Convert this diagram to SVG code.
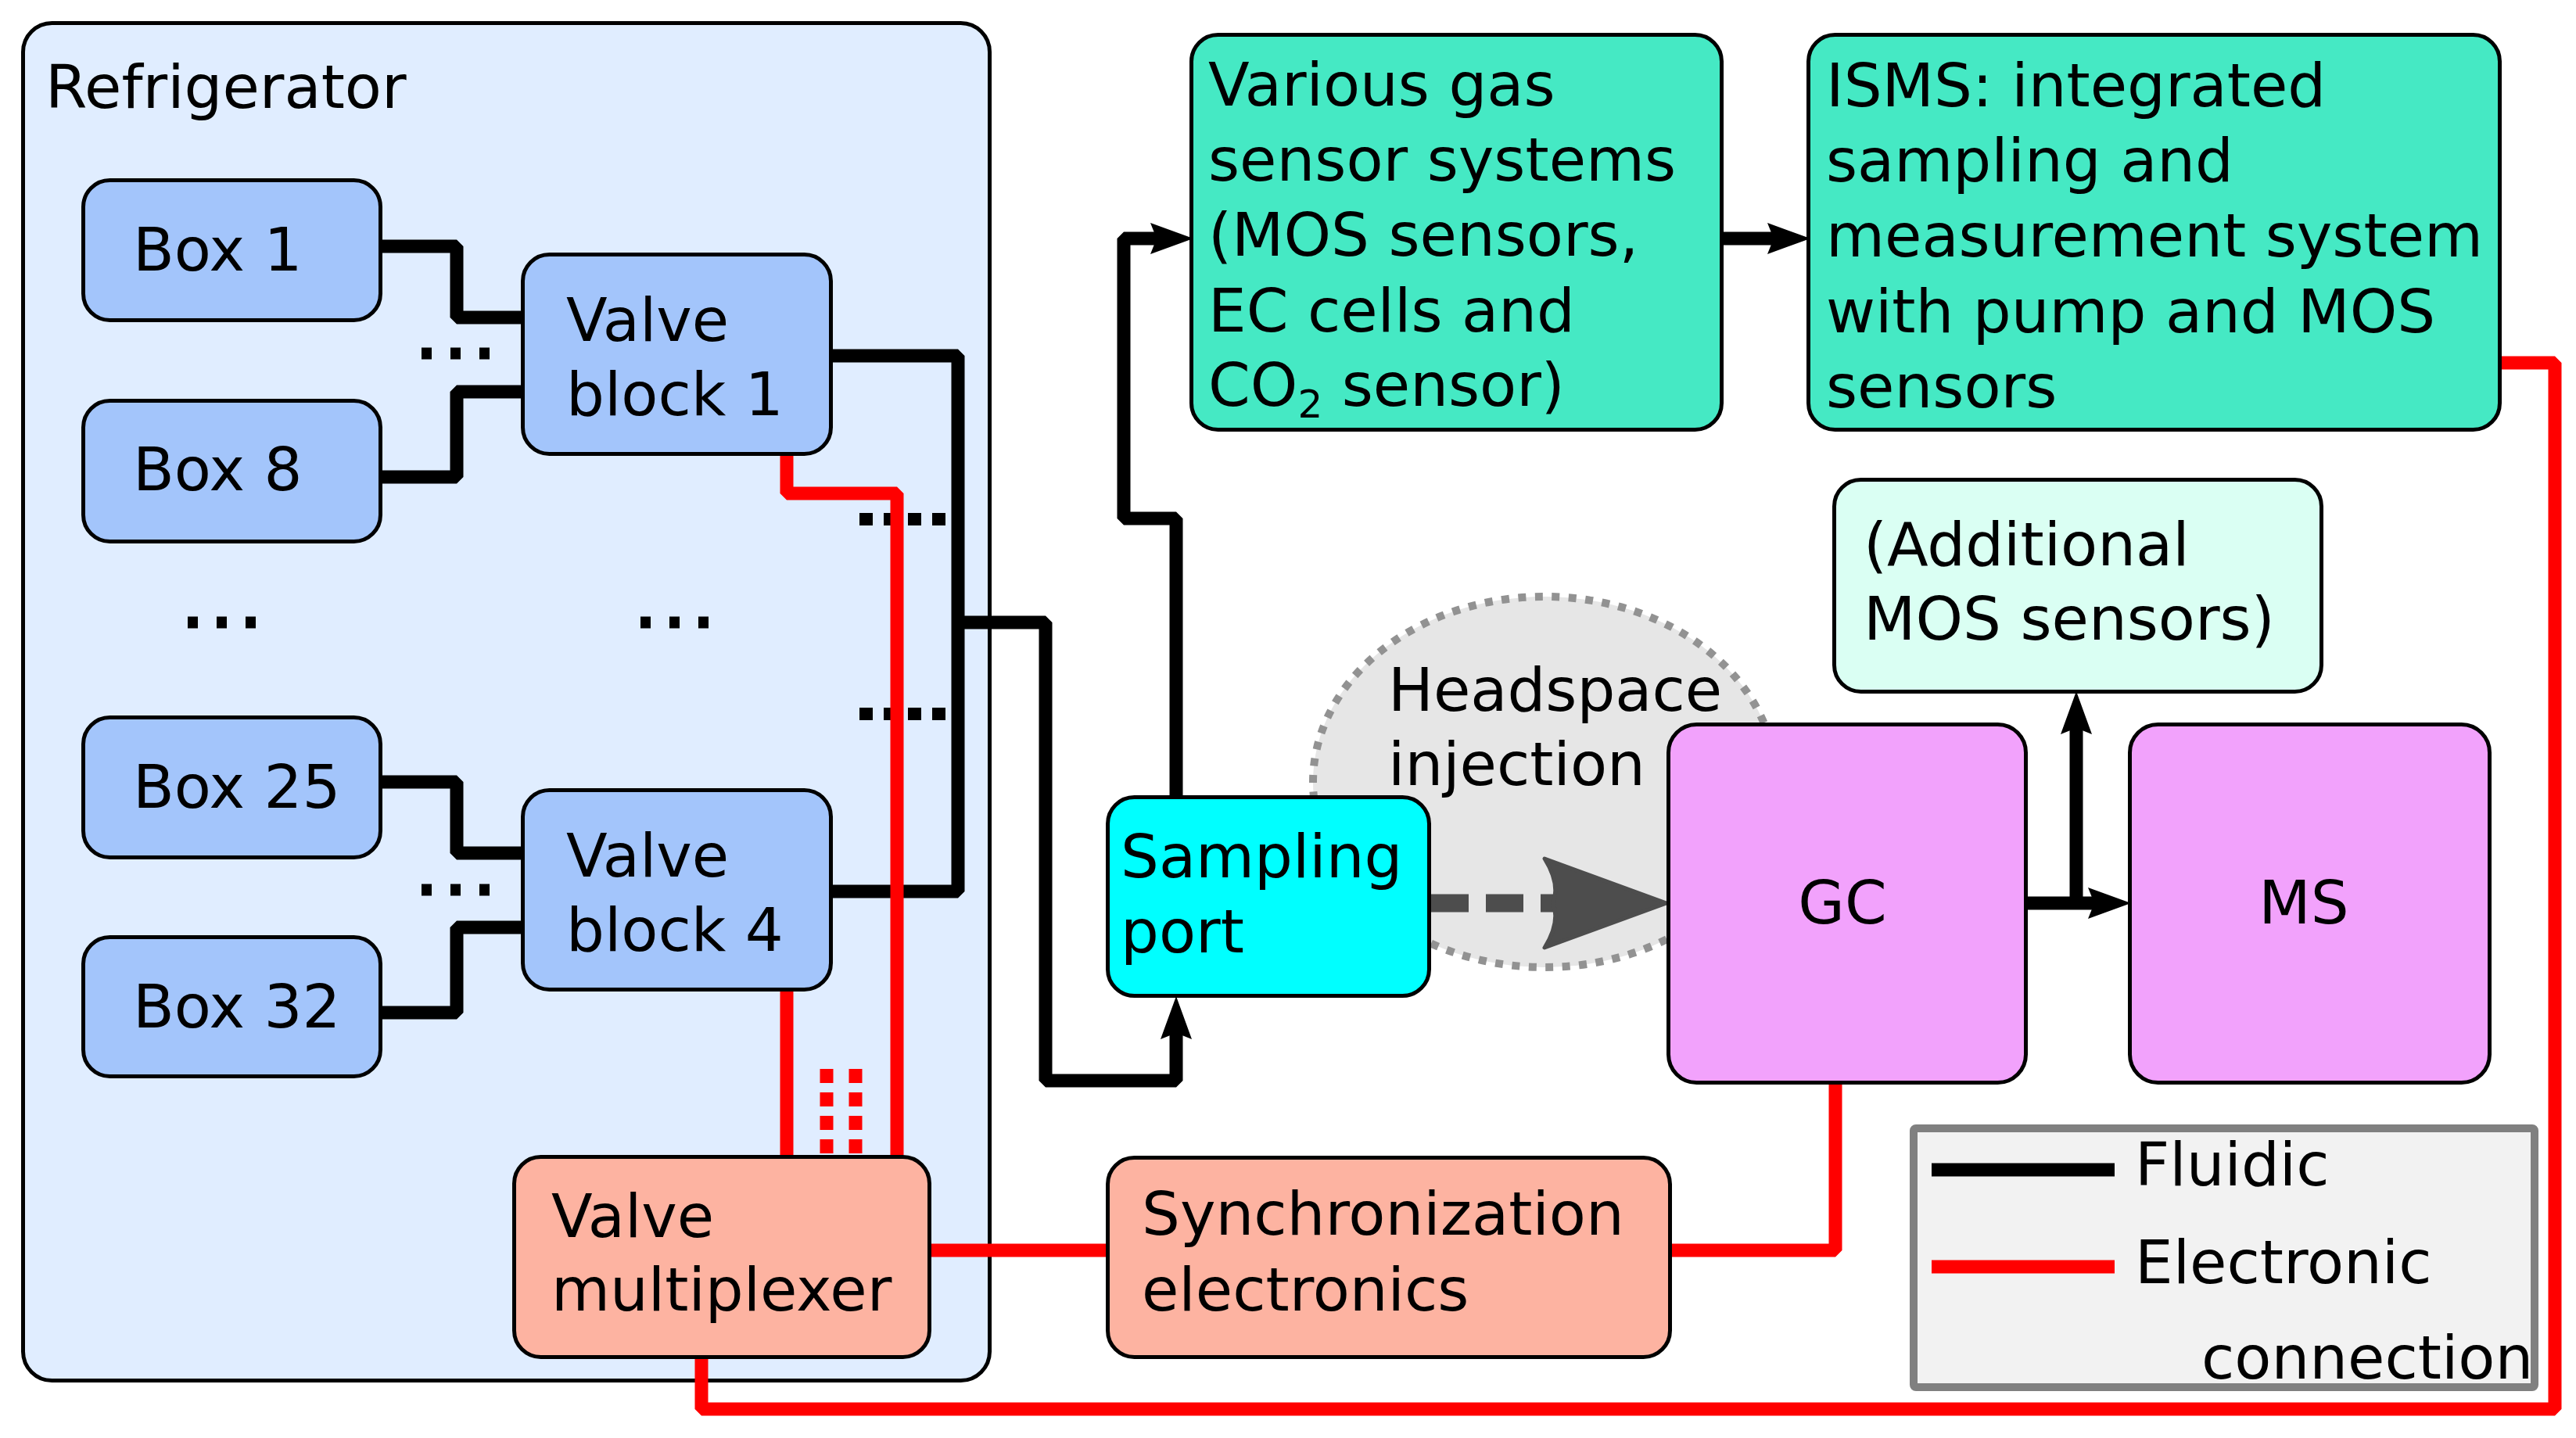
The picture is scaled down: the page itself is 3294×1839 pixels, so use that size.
<svg xmlns="http://www.w3.org/2000/svg" width="3294" height="1839" viewBox="0 0 3294 1839">
<style>
text{font-family:"DejaVu Sans","Verdana",sans-serif;font-size:77px;fill:#000}
.node{stroke:#000;stroke-width:5}
.blue{fill:#a3c5fb}
.salmon{fill:#fdb3a1}
.green{fill:#45e9c4}
.mint{fill:#dafff3}
.cyan{fill:#00ffff}
.pink{fill:#f2a2fc}
.fl{fill:none;stroke:#000;stroke-width:17;stroke-linejoin:bevel}
.el{fill:none;stroke:#ff0000;stroke-width:17;stroke-linejoin:bevel}
.dots{fill:none;stroke:#000;stroke-width:15;stroke-dasharray:13 24}
.dots4{fill:none;stroke:#000;stroke-width:16;stroke-dasharray:17 14}
.reddots{fill:none;stroke:#ff0000;stroke-width:17;stroke-dasharray:18 12}
</style>
<defs>
<marker id="ah" markerUnits="userSpaceOnUse" markerWidth="80" markerHeight="60" viewBox="-5 -30 80 60" refX="25" refY="0" orient="auto" overflow="visible">
<path d="M55,0 L0,-20 L8,0 L0,20 Z" fill="#000"/>
</marker>
<marker id="gah" markerUnits="userSpaceOnUse" markerWidth="180" markerHeight="140" viewBox="-10 -70 180 140" refX="17" refY="0" orient="auto" overflow="visible">
<path d="M158,0 L2,-57 Q22,-25 13,0 Q22,25 2,57 Z" fill="#4d4d4d" stroke="#4d4d4d" stroke-width="5" stroke-linejoin="round"/>
</marker>
</defs>

<g id="refrigerator">
<rect x="29.5" y="29.5" width="1236" height="1736" rx="37" fill="#e0edff" stroke="#000" stroke-width="5"/>
<text x="58" y="138">Refrigerator</text>
</g>

<g id="headspace">
<ellipse cx="1975" cy="1000" rx="296" ry="237" fill="#e6e6e6" stroke="#929292" stroke-width="10" stroke-dasharray="10 11.5"/>
<text x="1775" y="909">Headspace</text>
<text x="1775" y="1004">injection</text>
</g>

<g id="connectors">
<path class="fl" d="M489,315 H584 V406 H666"/>
<path class="fl" d="M489,610 H584 V501 H666"/>
<path class="fl" d="M489,1000 H584 V1091 H666"/>
<path class="fl" d="M489,1295 H584 V1186 H666"/>
<path class="fl" d="M1065,455 H1225 V1140 H1065"/>
<path class="fl" d="M1225,796 H1337 V1382 H1504 V1304" marker-end="url(#ah)"/>
<path class="fl" d="M1504,1017 V663 H1437 V305 H1496" marker-end="url(#ah)"/>
<path class="fl" d="M2204,305 H2285" marker-end="url(#ah)"/>
<path class="fl" d="M2593,1155 H2695" marker-end="url(#ah)"/>
<path class="fl" d="M2655,1155 V914" marker-end="url(#ah)"/>
<path class="dots" d="M539,452 H626"/>
<path class="dots" d="M539,1138 H626"/>
<path class="dots" d="M240,796 H327"/>
<path class="dots" d="M819,796 H906"/>
<path class="dots4" d="M1099,664 H1209"/>
<path class="dots4" d="M1099,913 H1209"/>
<path class="el" d="M1006,583 V631 H1147 V1477"/>
<path class="el" d="M1006,1268 V1477"/>
<path class="reddots" d="M1057,1367 V1477"/>
<path class="reddots" d="M1094,1367 V1477"/>
<path class="el" d="M1191,1599 H1414"/>
<path class="el" d="M2138,1599 H2347 V1387"/>
<path class="el" d="M897,1738 V1802 H3267 V464 H3199"/>
<path d="M1830,1155 H1990" fill="none" stroke="#4d4d4d" stroke-width="23" stroke-dasharray="48 22" marker-end="url(#gah)"/>
</g>

<g id="box1">
<rect class="node blue" x="106.5" y="230.5" width="380" height="179" rx="34"/>
<text x="170" y="346">Box 1</text>
</g>
<g id="box8">
<rect class="node blue" x="106.5" y="512.5" width="380" height="180" rx="34"/>
<text x="170" y="627">Box 8</text>
</g>
<g id="box25">
<rect class="node blue" x="106.5" y="917.5" width="380" height="179" rx="34"/>
<text x="170" y="1033">Box 25</text>
</g>
<g id="box32">
<rect class="node blue" x="106.5" y="1198.5" width="380" height="178" rx="34"/>
<text x="170" y="1314">Box 32</text>
</g>
<g id="valveblock1">
<rect class="node blue" x="668.5" y="325.5" width="394" height="255" rx="34"/>
<text x="724" y="436">Valve</text>
<text x="724" y="531">block 1</text>
</g>
<g id="valveblock4">
<rect class="node blue" x="668.5" y="1010.5" width="394" height="255" rx="34"/>
<text x="724" y="1121">Valve</text>
<text x="724" y="1216">block 4</text>
</g>
<g id="valvemultiplexer">
<rect class="node salmon" x="657.5" y="1479.5" width="531" height="256" rx="34"/>
<text x="705" y="1582">Valve</text>
<text x="705" y="1676">multiplexer</text>
</g>
<g id="samplingport">
<rect class="node cyan" x="1416.5" y="1019.5" width="411" height="254" rx="34"/>
<text x="1433" y="1122">Sampling</text>
<text x="1433" y="1218">port</text>
</g>
<g id="gassensors">
<rect class="node green" x="1523.5" y="44.5" width="678" height="505" rx="34"/>
<text x="1545" y="135">Various gas</text>
<text x="1545" y="231">sensor systems</text>
<text x="1545" y="327">(MOS sensors,</text>
<text x="1545" y="424">EC cells and</text>
<text x="1545" y="519">CO<tspan font-size="50" dy="15">2</tspan><tspan dy="-15"> sensor)</tspan></text>
</g>
<g id="isms">
<rect class="node green" x="2312.5" y="44.5" width="884" height="505" rx="34"/>
<text x="2335" y="136">ISMS: integrated</text>
<text x="2335" y="232">sampling and</text>
<text x="2335" y="328">measurement system</text>
<text x="2335" y="425">with pump and MOS</text>
<text x="2335" y="521">sensors</text>
</g>
<g id="additionalmos">
<rect class="node mint" x="2345.5" y="613.5" width="623" height="271" rx="34"/>
<text x="2383" y="723">(Additional</text>
<text x="2383" y="818">MOS sensors)</text>
</g>
<g id="gc">
<rect class="node pink" x="2133.5" y="926.5" width="457" height="458" rx="36"/>
<text x="2356" y="1181" text-anchor="middle">GC</text>
</g>
<g id="ms">
<rect class="node pink" x="2723.5" y="926.5" width="460" height="458" rx="36"/>
<text x="2946" y="1181" text-anchor="middle">MS</text>
</g>
<g id="synchronization">
<rect class="node salmon" x="1416.5" y="1480.5" width="719" height="255" rx="34"/>
<text x="1460" y="1579">Synchronization</text>
<text x="1460" y="1676">electronics</text>
</g>

<g id="legend">
<rect x="2447" y="1443" width="794" height="331" rx="3" fill="#f2f2f2" stroke="#808080" stroke-width="10"/>
<path d="M2470,1496 H2704" stroke="#000" stroke-width="17"/>
<path d="M2470,1620 H2704" stroke="#ff0000" stroke-width="17"/>
<text x="2730" y="1516">Fluidic</text>
<text x="2730" y="1641">Electronic</text>
<text x="2815" y="1763">connection</text>
</g>
</svg>
